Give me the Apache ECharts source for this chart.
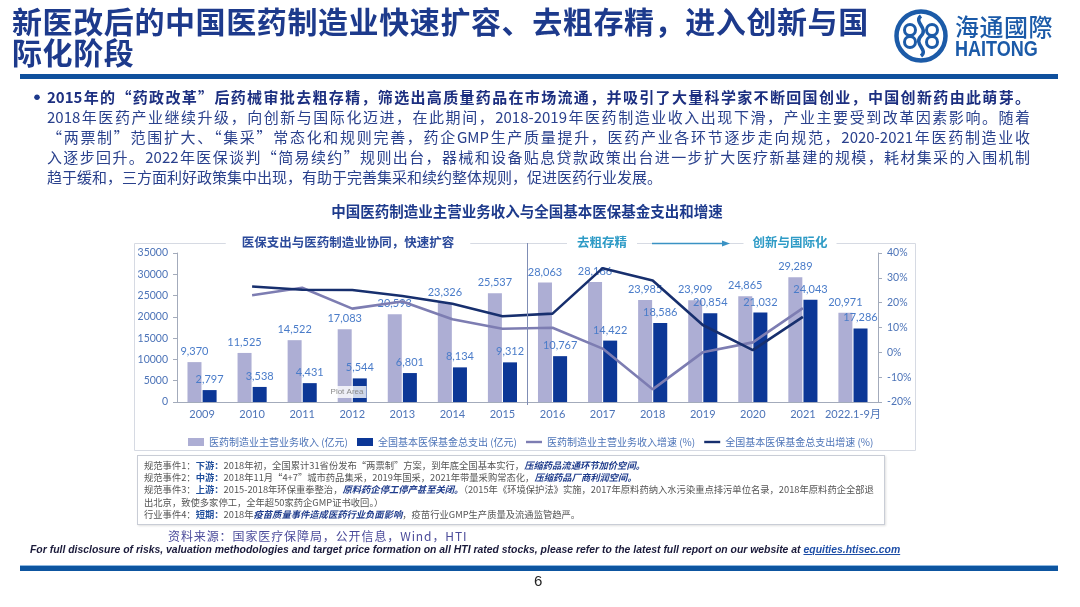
<!DOCTYPE html>
<html>
<head>
<meta charset="utf-8">
<script src="https://cdn.jsdelivr.net/npm/echarts@6.0.0/dist/echarts.min.js"></script>
<style>
  html, body { margin: 0; padding: 0; background: #fff; }
  body { width: 1080px; height: 607px; position: relative; overflow: hidden; font-family: "Noto Sans CJK SC", "Noto Sans", sans-serif; }
  #chart { position: absolute; left: 0; top: 0; width: 1080px; height: 607px; }
  .ov { position: absolute; white-space: nowrap; }
  #title { left: 12px; top: 5px; font-size: 30px; line-height: 31px; font-weight: 700; color: #1d3a8c; letter-spacing: 0.6px; }
  #topbar { left: 20px; top: 74px; width: 1038px; height: 5px; background: #0f509d; }
  #bullet { left: 26px; top: 83px; font-size: 22px; line-height: 24px; font-weight: 700; color: #1d3a8c; }
  #para { left: 47px; top: 87px; width: 983px; font-size: 15px; line-height: 20px; color: #2a418d; }
  #para div { white-space: nowrap; text-align: justify; text-align-last: justify; }
  #para div.last { text-align-last: left; }
  #para div.b { font-weight: 700; color: #1c2f80; }
  #notes { left: 137px; top: 455px; width: 734px; height: 62px; border: 1px solid #c9cdd6; box-shadow: 1px 1px 2px rgba(0,0,0,0.12); padding: 3px 6px; font-size: 9.3px; line-height: 12.2px; color: #555; }
  #notes .k { color: #555; }
  #notes .p { color: #1f4e9c; font-weight: 700; }
  #notes .h { color: #1f3c8c; font-weight: 700; font-style: italic; }
  #source { left: 168px; top: 527px; font-size: 12px; letter-spacing: 0.9px; color: #4b4b9a; }
  #disc { left: 30px; top: 543px; font-family: "Liberation Sans", Arial, sans-serif; font-size: 11.5px; font-weight: 700; font-style: italic; color: #1a1a3a; transform: scaleX(0.906); transform-origin: 0 50%; }
  #disc a { color: #1f4fa8; text-decoration: underline; }
  #botbar { left: 20px; top: 565px; width: 1038px; height: 5px; background: #0d55a0; border-top: 1px solid #8fb8e0; }
  #page { left: 534px; top: 572px; font-size: 15px; color: #222; font-family: "Liberation Sans", sans-serif; }
  #logo { left: 893px; top: 8px; }
  #logocn { left: 955px; top: 8px; font-size: 24px; color: #1b5aa8; font-weight: 500; letter-spacing: 0.5px; }
  #logoen { left: 955px; top: 36px; font-size: 22px; color: #1b5aa8; font-weight: 700; font-family: "Liberation Sans", sans-serif; transform: scaleX(0.82); transform-origin: 0 50%; }
</style>
</head>
<body>
<div id="chart"></div>

<div class="ov" id="title">新医改后的中国医药制造业快速扩容、去粗存精，进入创新与国<br>际化阶段</div>
<svg class="ov" id="logo" width="56" height="56" viewBox="0 0 56 56">
  <circle cx="28" cy="28" r="24.5" fill="none" stroke="#1c5ba8" stroke-width="4.5"/>
  <path d="M28 8 C20 14 36 20 28 28 C20 36 36 42 28 48" fill="none" stroke="#1c5ba8" stroke-width="3.5"/>
  <circle cx="17" cy="22" r="5.5" fill="none" stroke="#1c5ba8" stroke-width="3"/>
  <circle cx="17" cy="34" r="5.5" fill="none" stroke="#1c5ba8" stroke-width="3"/>
  <circle cx="39" cy="22" r="5.5" fill="none" stroke="#1c5ba8" stroke-width="3"/>
  <circle cx="39" cy="34" r="5.5" fill="none" stroke="#1c5ba8" stroke-width="3"/>
</svg>
<div class="ov" id="logocn">海通國際</div>
<div class="ov" id="logoen">HAITONG</div>
<div class="ov" id="topbar"></div>

<div class="ov" id="bullet">•</div>
<div class="ov" id="para">
  <div class="b">2015年的“药政改革”后药械审批去粗存精，筛选出高质量药品在市场流通，并吸引了大量科学家不断回国创业，中国创新药由此萌芽。</div>
  <div>2018年医药产业继续升级，向创新与国际化迈进，在此期间，2018-2019年医药制造业收入出现下滑，产业主要受到改革因素影响。随着</div>
  <div>“两票制”范围扩大、“集采”常态化和规则完善，药企GMP生产质量提升，医药产业各环节逐步走向规范，2020-2021年医药制造业收</div>
  <div>入逐步回升。2022年医保谈判“简易续约”规则出台，器械和设备贴息贷款政策出台进一步扩大医疗新基建的规模，耗材集采的入围机制</div>
  <div class="last">趋于缓和，三方面利好政策集中出现，有助于完善集采和续约整体规则，促进医药行业发展。</div>
</div>

<div class="ov" id="notes">
  <span class="k">规范事件1：</span><span class="p">下游：</span>2018年初，全国累计31省份发布“两票制”方案，到年底全国基本实行，<span class="h">压缩药品流通环节加价空间。</span><br>
  <span class="k">规范事件2：</span><span class="p">中游：</span>2018年11月“4+7”城市药品集采，2019年国采，2021年带量采购常态化，<span class="h">压缩药品厂商利润空间。</span><br>
  <span class="k">规范事件3：</span><span class="p">上游：</span>2015-2018年环保重拳整治，<span class="h">原料药企停工停产甚至关闭。</span>（2015年《环境保护法》实施，2017年原料药纳入水污染重点排污单位名录，2018年原料药企全部退<br>
  出北京，致使多家停工，全年超50家药企GMP证书收回。）<br>
  <span class="k">行业事件4：</span><span class="p">短期：</span>2018年<span class="h">疫苗质量事件造成医药行业负面影响</span>，疫苗行业GMP生产质量及流通监管趋严。
</div>
<div class="ov" id="source">资料来源：国家医疗保障局，公开信息，Wind，HTI</div>
<div class="ov" id="disc">For full disclosure of risks, valuation methodologies and target price formation on all HTI rated stocks, please refer to the latest full report on our website at <a>equities.htisec.com</a></div>
<div class="ov" id="botbar"></div>
<div class="ov" id="page">6</div>

<script>
const categories = ['2009','2010','2011','2012','2013','2014','2015','2016','2017','2018','2019','2020','2021','2022.1-9月'];
const revenue = [9370, 11525, 14522, 17083, 20593, 23326, 25537, 28063, 28186, 23985, 23909, 24865, 29289, 20971];
const fundSpend = [2797, 3538, 4431, 5544, 6801, 8134, 9312, 10767, 14422, 18586, 20854, 21032, 24043, 17286];
const revenueGrowth = [null, 23.0, 26.0, 17.6, 20.5, 13.3, 9.5, 9.9, 1.5, -14.9, 0.0, 4.0, 17.8, null];
const fundGrowth = [null, 26.5, 25.2, 25.1, 22.7, 19.6, 14.5, 15.6, 33.9, 28.9, 11.0, 0.9, 14.3, null];
const seriesNames = ['医药制造业主营业务收入 (亿元)', '全国基本医保基金总支出 (亿元)', '医药制造业主营业务收入增速 (%)', '全国基本医保基金总支出增速 (%)'];
const leftAxis = { min: 0, max: 35000, interval: 5000 };
const rightAxis = { min: -20, max: 40, interval: 10 };

const blueText = '#4d74b8';
const axisGray = '#a3abbb';
const numFont = 'Lato, "Noto Sans", sans-serif';
const cjkFont = '"Noto Sans CJK SC", sans-serif';
const fmt = v => Number(v).toLocaleString('en-US');

const chart = echarts.init(document.getElementById('chart'), null, { renderer: 'canvas' });
chart.setOption({
  animation: false,
  grid: { left: 177, right: 202, top: 253, bottom: 205, containLabel: false },
  legend: {
    left: 183, top: 432, itemWidth: 16, itemHeight: 8, itemGap: 9,
    textStyle: { color: blueText, fontSize: 10, fontFamily: cjkFont },
    data: [
      { name: seriesNames[0], icon: 'rect' },
      { name: seriesNames[1], icon: 'rect' },
      { name: seriesNames[2], icon: 'path://M0 0 H20 V3 H0 Z' },
      { name: seriesNames[3], icon: 'path://M0 0 H20 V3 H0 Z' }
    ]
  },
  xAxis: {
    type: 'category', data: categories,
    axisLine: { lineStyle: { color: axisGray } },
    axisTick: { show: false },
    axisLabel: { color: blueText, fontSize: 11, margin: 7, fontFamily: numFont + ', ' + cjkFont, interval: 0 }
  },
  yAxis: [
    {
      type: 'value', min: leftAxis.min, max: leftAxis.max, interval: leftAxis.interval,
      axisLine: { show: true, lineStyle: { color: axisGray } },
      axisTick: { show: true, length: 4, lineStyle: { color: axisGray } },
      splitLine: { show: false },
      axisLabel: { color: blueText, fontSize: 10.5, margin: 9, fontFamily: numFont, formatter: v => String(v) }
    },
    {
      type: 'value', position: 'right', min: rightAxis.min, max: rightAxis.max, interval: rightAxis.interval,
      axisLine: { show: true, lineStyle: { color: axisGray } },
      axisTick: { show: true, length: 4, lineStyle: { color: axisGray } },
      splitLine: { show: false },
      axisLabel: { color: blueText, fontSize: 10.5, margin: 9, fontFamily: numFont, formatter: '{value}%' }
    }
  ],
  series: [
    {
      name: seriesNames[0], type: 'bar', data: revenue, barWidth: 14, barGap: '8%',
      itemStyle: { color: '#adaed4' },
      label: { show: true, position: 'top', distance: 5, color: '#4a7cc9', fontSize: 11, fontFamily: numFont, formatter: p => fmt(p.value) }
    },
    {
      name: seriesNames[1], type: 'bar', data: fundSpend, barWidth: 14,
      itemStyle: { color: '#0c3796' },
      label: { show: true, position: 'top', distance: 5, color: '#4a7cc9', fontSize: 11, fontFamily: numFont, formatter: p => fmt(p.value) }
    },
    {
      name: seriesNames[2], type: 'line', yAxisIndex: 1, data: revenueGrowth, symbol: 'none',
      lineStyle: { color: '#7d7db2', width: 2.6 }, itemStyle: { color: '#7d7db2' }, z: 3
    },
    {
      name: seriesNames[3], type: 'line', yAxisIndex: 1, data: fundGrowth, symbol: 'none',
      lineStyle: { color: '#172f6e', width: 2.6 }, itemStyle: { color: '#172f6e' }, z: 4
    }
  ],
  graphic: [
    { type: 'rect', z: -10, silent: true, shape: { x: 134.5, y: 243.5, width: 781, height: 207 },
      style: { fill: 'none', stroke: '#d6dae3', lineWidth: 1 } },
    { type: 'text', z: 10, silent: true, style: { text: '中国医药制造业主营业务收入与全国基本医保基金支出和增速', x: 527, y: 211,
      textAlign: 'center', textVerticalAlign: 'middle', fill: '#1d3a8c', font: 'bold 14.5px "Noto Sans CJK SC", sans-serif' } },
    { type: 'text', z: 10, silent: true, style: { text: '医保支出与医药制造业协同，快速扩容', x: 348, y: 242,
      textAlign: 'center', textVerticalAlign: 'middle', fill: '#2b4a9b', font: 'bold 12.5px "Noto Sans CJK SC", sans-serif',
      backgroundColor: '#fff', padding: [2, 16] } },
    { type: 'line', z: 5, silent: true, shape: { x1: 527.5, y1: 243, x2: 527.5, y2: 405 }, style: { stroke: '#7f8db5', lineWidth: 1 } },
    { type: 'text', z: 10, silent: true, style: { text: '去粗存精', x: 602, y: 242,
      textAlign: 'center', textVerticalAlign: 'middle', fill: '#2e9bc6', font: 'bold 12.5px "Noto Sans CJK SC", sans-serif',
      backgroundColor: '#fff', padding: [2, 10] } },
    { type: 'line', z: 10, silent: true, shape: { x1: 652, y1: 243.5, x2: 725, y2: 243.5 }, style: { stroke: '#3a92c4', lineWidth: 1.3 } },
    { type: 'polygon', z: 10, silent: true, shape: { points: [[722, 240.5], [730, 243.5], [722, 246.5]] }, style: { fill: '#3a92c4' } },
    { type: 'text', z: 10, silent: true, style: { text: '创新与国际化', x: 790, y: 242,
      textAlign: 'center', textVerticalAlign: 'middle', fill: '#2e9bc6', font: 'bold 12.5px "Noto Sans CJK SC", sans-serif',
      backgroundColor: '#fff', padding: [2, 9] } },
    { type: 'text', z: 10, silent: true, style: { text: 'Plot Area', x: 347, y: 392,
      textAlign: 'center', textVerticalAlign: 'middle', fill: '#8a8a8a', font: '8px "Liberation Sans", sans-serif',
      backgroundColor: 'rgba(255,255,255,0.8)', padding: [2, 3] } }
  ]
});
</script>
</body>
</html>
